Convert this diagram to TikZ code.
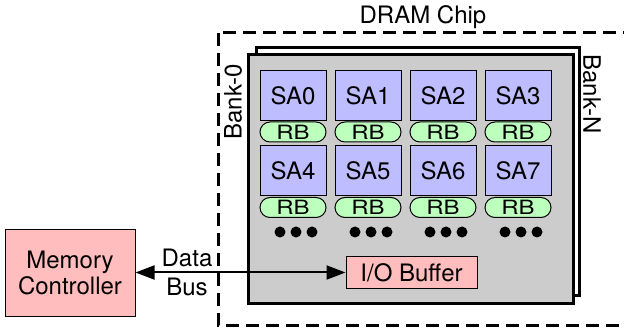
\documentclass[tikz,border=0pt]{standalone}
\usepackage{fontspec}
\setmainfont{TeX Gyre Heros}
\usetikzlibrary{arrows.meta}
\definecolor{saFill}{HTML}{BDBDFF}
\definecolor{rbFill}{HTML}{BDFFBD}
\definecolor{pinkFill}{HTML}{FFBDBD}
\definecolor{bankFill}{HTML}{CCCCCC}
\tikzset{
  lbl/.style={font=\fontsize{24}{26}\selectfont, inner sep=0pt},
  subarray/.style={lbl, draw, line width=1pt, fill=saFill,
    minimum width=66pt, minimum height=50pt},
  rowbuf/.style={draw, line width=1pt, fill=rbFill, rounded corners=10pt,
    minimum width=66pt, minimum height=20pt, inner sep=0pt,
    font=\fontsize{24}{26}\selectfont},
  pinkbox/.style={lbl, draw, line width=1pt, fill=pinkFill, align=center},
  bankwall/.style={line width=3pt},
  dotmark/.style={circle, fill=black, inner sep=0pt, minimum size=11pt},
  bustip/.tip={Triangle[length=19pt,width=14pt]},
}
\begin{document}
\begin{tikzpicture}[x=1pt, y=-1pt]
\useasboundingbox (0,0) rectangle (624,331);

% chip outline
\draw[line width=3pt, dash pattern=on 13pt off 7pt] (218,33) rectangle (625,325);
\node[lbl, anchor=base] (chip) at (423,24) {DRAM Chip};

% banks: Bank-N behind, Bank-0 in front
\draw[bankwall, fill=white] (256,48) rectangle (579,295);
\draw[bankwall, fill=bankFill] (248,55) rectangle (573,303);
\node[lbl, rotate=90] (bank0) at (233,102) {Bank-0};
\node[lbl, rotate=-90] (bankN) at (592,94) {Bank-N};

% subarrays with their row buffers
\foreach \i in {0,...,3} {
  \pgfmathsetmacro{\cx}{293+75*\i}
  \node[subarray] (sa\i) at (\cx,95.5) {SA\i};
  \node[rowbuf] (rbA\i) at (\cx,132) {\scalebox{1}[0.82]{RB}};
  \pgfmathtruncatemacro{\j}{\i+4}
  \node[subarray] (sa\j) at (\cx,170.5) {SA\j};
  \node[rowbuf] (rbB\i) at (\cx,207.5) {\scalebox{1}[0.82]{RB}};
  \foreach \d in {-16,0,16}
    \node[dotmark] at (\cx+3+\d,232) {};
}

% I/O path
\node[pinkbox, minimum width=131pt, minimum height=31pt] (io) at (411.5,272.5) {I/O Buffer};
\node[pinkbox, minimum width=130pt, minimum height=86pt] (mc) at (70,273) {Memory\\Controller};
\draw[line width=2pt, bustip-bustip] (mc.east |- io.west) -- (io.west);
\node[lbl, anchor=base] (data) at (187,267) {Data};
\node[lbl, anchor=base] (bus) at (187,295) {Bus};
\end{tikzpicture}
\end{document}
